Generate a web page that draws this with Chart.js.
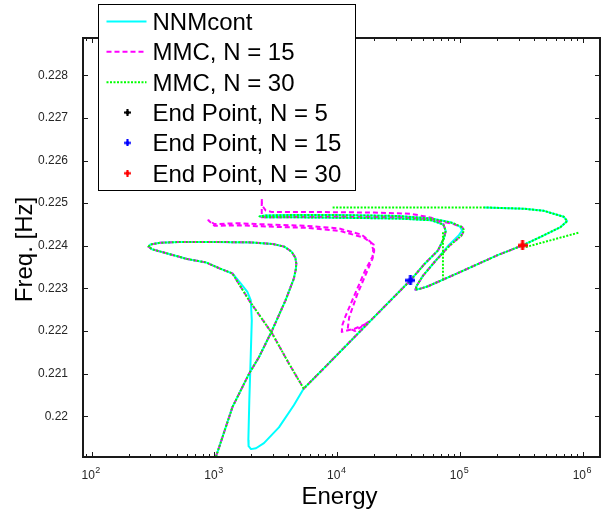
<!DOCTYPE html>
<html>
<head>
<meta charset="utf-8">
<title>Frequency-energy plot</title>
<script src="https://cdn.jsdelivr.net/npm/chart.js@4.4.1/dist/chart.umd.min.js"></script>
<style>
    html, body { margin: 0; padding: 0; background: #fff; }
    #wrap { position: relative; width: 606px; height: 514px; }
</style>
</head>
<body>
<div id="wrap"><canvas id="fepChart"></canvas></div>
<script>
// Values (energy, frequency in Hz)

// first loop, shared by all three curves
const startE = [1028, 1403, 1914, 2307, 2953, 3791, 4430, 4600, 4640, 4560, 4250, 3700, 3000, 2000, 1000, 519, 360, 300, 291, 310, 400, 600, 853, 1100, 1402];
const startF = [0.21905, 0.22022, 0.22100, 0.22139, 0.22202, 0.22272, 0.22323, 0.22345, 0.22358, 0.22372, 0.22386, 0.22398, 0.22404, 0.22408, 0.22409, 0.22409, 0.22407, 0.22403, 0.22398, 0.22392, 0.22383, 0.22369, 0.22361, 0.22347, 0.22335];

// NNMcont dips down to the bottom before coming back
const nnmDipE = [1641, 1854, 1977, 2014, 1977, 1923, 1888, 1897, 1986, 2178, 2529, 3350, 4430, 5336];
const nnmDipF = [0.22311, 0.22292, 0.22272, 0.22225, 0.22147, 0.22038, 0.21944, 0.21930, 0.21923, 0.21925, 0.21937, 0.21974, 0.22026, 0.22065];

// MMC cuts straight across instead
const mmcCrossE = [1914, 2953, 4036, 5336];
const mmcCrossF = [0.22272, 0.22194, 0.22124, 0.22065];

// long diagonal up to the N = 15 end point
const diagE = [8511, 17900, 39450];
const diagF = [0.22124, 0.22219, 0.22319];

// extra loop of MMC N = 15 (out and back)
const mmc15LoopE = [13990, 10890, 11000, 11610, 13990, 16870, 19400, 19600, 18700, 15810, 10250, 5510, 2168, 1589, 1000, 891, 1000, 1600, 2200, 5600, 10500, 16500, 19800, 20000, 19400, 17200, 14500, 12500, 12200, 14000, 19050];
const mmc15LoopF = [0.22206, 0.22198, 0.22214, 0.22233, 0.22288, 0.22342, 0.22375, 0.22392, 0.22409, 0.22426, 0.22441, 0.22447, 0.22451, 0.22453, 0.22451, 0.22460, 0.22447, 0.22448, 0.22446, 0.22442, 0.22435, 0.22419, 0.22403, 0.22388, 0.22370, 0.22335, 0.22285, 0.22232, 0.22208, 0.22200, 0.22227];

// upper branches
const nnmUpE = [51600, 66100, 74000, 76500, 73000, 58400, 31300, 10000, 4000, 2600, 2330, 2600, 4000, 10000, 31300, 58400, 84000, 100000, 104000, 98000, 80000, 62000, 50000, 44500, 43300, 47000, 54800, 95900, 202300, 322800, 453600, 659000, 746000, 700000, 483000, 332700, 157800];
const nnmUpF = [0.22358, 0.22389, 0.22418, 0.22435, 0.22450, 0.22460, 0.22464, 0.22466, 0.22467, 0.22467, 0.22469, 0.22471, 0.22472, 0.22472, 0.22470, 0.22464, 0.22455, 0.22445, 0.22436, 0.22425, 0.22400, 0.22362, 0.22330, 0.22307, 0.22297, 0.22299, 0.22305, 0.22336, 0.22378, 0.22401, 0.22421, 0.22444, 0.22458, 0.22468, 0.22482, 0.22487, 0.22490];

const mmc15UpE = [51600, 66100, 74000, 76500, 73000, 58400, 40000, 20000, 8000, 4000, 2951, 2612, 2440, 2427, 2427, 2700, 10000, 31300, 58400, 86000, 104000, 108500, 102000, 82000, 62000, 50000, 44500, 43300, 47000, 54800, 95900, 202300, 322800];
const mmc15UpF = [0.22358, 0.22389, 0.22418, 0.22435, 0.22452, 0.22466, 0.22475, 0.22478, 0.22479, 0.22479, 0.22479, 0.22483, 0.22495, 0.22511, 0.22467, 0.22467, 0.22468, 0.22467, 0.22462, 0.22452, 0.22444, 0.22436, 0.22423, 0.22400, 0.22362, 0.22330, 0.22307, 0.22297, 0.22299, 0.22305, 0.22336, 0.22378, 0.22401];

// null = break in the line
const mmc30UpE = [51600, 66100, 74000, 76500, 73000, 58400, 31300, 10000, 4000, 2600, 2330, 2600, 4000, 10000, 31300, 58400, 86000, 104000, 108000, 102000, 82000, 62000, 50000, 44500, 43300, 47000, 54800, 95900, 202300, 322800, 453600, 659000, 746000, 700000, 483000, 332700, 157800, 9040, null, 72600, 72600, null, 343000, 929000];
const mmc30UpF = [0.22358, 0.22389, 0.22418, 0.22435, 0.22450, 0.22460, 0.22464, 0.22466, 0.22467, 0.22467, 0.22469, 0.22471, 0.22472, 0.22472, 0.22470, 0.22464, 0.22454, 0.22444, 0.22436, 0.22423, 0.22400, 0.22362, 0.22330, 0.22307, 0.22297, 0.22299, 0.22305, 0.22336, 0.22378, 0.22401, 0.22421, 0.22444, 0.22458, 0.22468, 0.22482, 0.22487, 0.22490, 0.22490, null, 0.22432, 0.22323, null, 0.22397, 0.22431];

// end points
const end5E = [];
const end5F = [];
const end15E = [39450];
const end15F = [0.22319];
const end30E = [322800];
const end30F = [0.22401];

// axes
const xTicks = [1e2, 1e3, 1e4, 1e5, 1e6];
const yTicks = [0.22, 0.221, 0.222, 0.223, 0.224, 0.225, 0.226, 0.227, 0.228];
const xMin = 85, xMax = 1.38e6;
const yMin = 0.219045, yMax = 0.228875;

const FONT = '"Liberation Sans", Arial, Helvetica, sans-serif';

function toPoints(es, fs) {
    return es.map((e, i) => ({ x: e, y: fs[i] }));
}

// thick "+" marker like the MATLAB one
function plusMarker(color, size) {
    const c = document.createElement("canvas");
    c.width = size;
    c.height = size;
    const g = c.getContext("2d");
    const m = size / 2;
    const t = size * 0.3;
    g.fillStyle = color;
    g.fillRect(0, m - t / 2, size, t);
    g.fillRect(m - t / 2, 0, t, size);
    g.beginPath();
    g.arc(m, m, size * 0.27, 0, Math.PI * 2);
    g.fill();
    return c;
}

const nnmE = [...startE, ...nnmDipE, ...diagE, ...nnmUpE];
const nnmF = [...startF, ...nnmDipF, ...diagF, ...nnmUpF];
const mmc15E = [...startE, ...mmcCrossE, ...diagE.slice(0, 2), ...mmc15LoopE, ...diagE.slice(2), ...mmc15UpE];
const mmc15F = [...startF, ...mmcCrossF, ...diagF.slice(0, 2), ...mmc15LoopF, ...diagF.slice(2), ...mmc15UpF];
const mmc30E = [...startE, ...mmcCrossE, ...diagE, ...mmc30UpE];
const mmc30F = [...startF, ...mmcCrossF, ...diagF, ...mmc30UpF];

function lineSet(label, data, color, dash, order) {
    return {
        label: label,
        data: data,
        showLine: true,
        borderColor: color,
        backgroundColor: color,
        borderWidth: 2,
        borderDash: dash,
        borderJoinStyle: "round",
        pointRadius: 0,
        pointHoverRadius: 0,
        order: order,
    };
}

function pointSet(label, data, color) {
    return {
        label: label,
        data: data,
        showLine: false,
        borderColor: color,
        backgroundColor: color,
        pointStyle: plusMarker(color, 10),
        legendMarker: plusMarker(color, 7),
        pointRadius: 5,
        pointHoverRadius: 5,
        order: 0,
    };
}

// axes box, inward ticks, 10^n labels, titles and legend
const matlabAxes = {
    id: "matlabAxes",
    afterDraw(chart) {
        const ctx = chart.ctx;
        const a = chart.chartArea;
        const xs = chart.scales.x;
        const ys = chart.scales.y;
        ctx.save();

        ctx.strokeStyle = "#1a1a1a";
        ctx.lineWidth = 2;
        ctx.setLineDash([]);
        ctx.strokeRect(a.left, a.top, a.right - a.left, a.bottom - a.top);

        ctx.lineWidth = 1;
        ctx.beginPath();
        for (let k = 1; k <= 6; k++) {
            for (let m = 1; m <= 9; m++) {
                const v = m * Math.pow(10, k);
                if (v < xs.min || v > xs.max) continue;
                const px = Math.round(xs.getPixelForValue(v)) + 0.5;
                const len = m === 1 ? 5 : 3;
                ctx.moveTo(px, a.bottom);
                ctx.lineTo(px, a.bottom - len);
                ctx.moveTo(px, a.top);
                ctx.lineTo(px, a.top + len);
            }
        }
        yTicks.forEach((v) => {
            const py = Math.round(ys.getPixelForValue(v)) + 0.5;
            ctx.moveTo(a.left, py);
            ctx.lineTo(a.left + 5, py);
            ctx.moveTo(a.right, py);
            ctx.lineTo(a.right - 5, py);
        });
        ctx.stroke();

        // x tick labels as 10 with a raised exponent
        ctx.fillStyle = "#262626";
        ctx.textAlign = "left";
        ctx.textBaseline = "alphabetic";
        xTicks.forEach((v) => {
            const px = xs.getPixelForValue(v);
            const exp = String(Math.round(Math.log10(v)));
            ctx.font = "12px " + FONT;
            const w1 = ctx.measureText("10").width;
            ctx.font = "9px " + FONT;
            const w2 = ctx.measureText(exp).width;
            const x0 = px - (w1 + w2) / 2 - 1;
            ctx.font = "12px " + FONT;
            ctx.fillText("10", x0, a.bottom + 22);
            ctx.font = "9px " + FONT;
            ctx.fillText(exp, x0 + w1 + 0.5, a.bottom + 15.5);
        });

        // axis titles
        ctx.fillStyle = "#000";
        ctx.font = "24px " + FONT;
        ctx.textAlign = "center";
        ctx.fillText("Energy", (a.left + a.right) / 2 - 2, 504);
        ctx.save();
        ctx.translate(32, (a.top + a.bottom) / 2 + 2);
        ctx.rotate(-Math.PI / 2);
        ctx.fillText("Freq. [Hz]", 0, 0);
        ctx.restore();

        // legend box
        const bx = 98.5, by = 4.5, bw = 257, bh = 186;
        ctx.fillStyle = "#fff";
        ctx.fillRect(bx, by, bw, bh);
        ctx.strokeStyle = "#000";
        ctx.lineWidth = 1;
        ctx.strokeRect(bx, by, bw, bh);

        chart.data.datasets.forEach((ds, i) => {
            const base = 30 + 30.35 * i;
            const cy = base - 8.5;
            if (ds.showLine) {
                ctx.strokeStyle = ds.borderColor;
                ctx.lineWidth = 2;
                ctx.setLineDash(ds.borderDash || []);
                ctx.beginPath();
                ctx.moveTo(106.5, cy);
                ctx.lineTo(146.5, cy);
                ctx.stroke();
                ctx.setLineDash([]);
            } else {
                const img = ds.legendMarker;
                ctx.drawImage(img, 127.5 - img.width / 2, cy - img.height / 2);
            }
            ctx.fillStyle = "#000";
            ctx.font = "24px " + FONT;
            ctx.textAlign = "left";
            ctx.fillText(ds.label, 152.5, base);
        });

        ctx.restore();
    },
};

const fepChart = new Chart(document.getElementById("fepChart"), {
    type: "scatter",
    data: {
        datasets: [
            lineSet("NNMcont", toPoints(nnmE, nnmF), "#00ffff", [], 3),
            lineSet("MMC, N = 15", toPoints(mmc15E, mmc15F), "#ff00ff", [5, 3], 2),
            lineSet("MMC, N = 30", toPoints(mmc30E, mmc30F), "#00ff00", [2, 1.5], 1),
            pointSet("End Point, N = 5", toPoints(end5E, end5F), "#000000"),
            pointSet("End Point, N = 15", toPoints(end15E, end15F), "#0000ff"),
            pointSet("End Point, N = 30", toPoints(end30E, end30F), "#ff0000"),
        ],
    },
    options: {
        responsive: true,
        maintainAspectRatio: false,
        animation: false,
        events: [],
        layout: { padding: { top: 38, right: 3, left: 0, bottom: 0 } },
        plugins: {
            legend: { display: false },
            tooltip: { enabled: false },
        },
        scales: {
            x: {
                type: "logarithmic",
                min: xMin,
                max: xMax,
                grid: { display: false, drawTicks: false },
                border: { display: false },
                ticks: { display: false },
                afterBuildTicks: (scale) => {
                    scale.ticks = xTicks.map((v) => ({ value: v }));
                },
                afterFit: (scale) => {
                    scale.height = 57;
                },
            },
            y: {
                type: "linear",
                min: yMin,
                max: yMax,
                grid: { display: false, drawTicks: false },
                border: { display: false },
                ticks: {
                    padding: 15,
                    color: "#262626",
                    font: { family: FONT, size: 12 },
                    callback: (value) => String(+value.toFixed(3)),
                },
                afterBuildTicks: (scale) => {
                    scale.ticks = yTicks.map((v) => ({ value: v }));
                },
                afterFit: (scale) => {
                    scale.width = 83;
                },
            },
        },
    },
    plugins: [matlabAxes],
});
</script>
</body>
</html>
